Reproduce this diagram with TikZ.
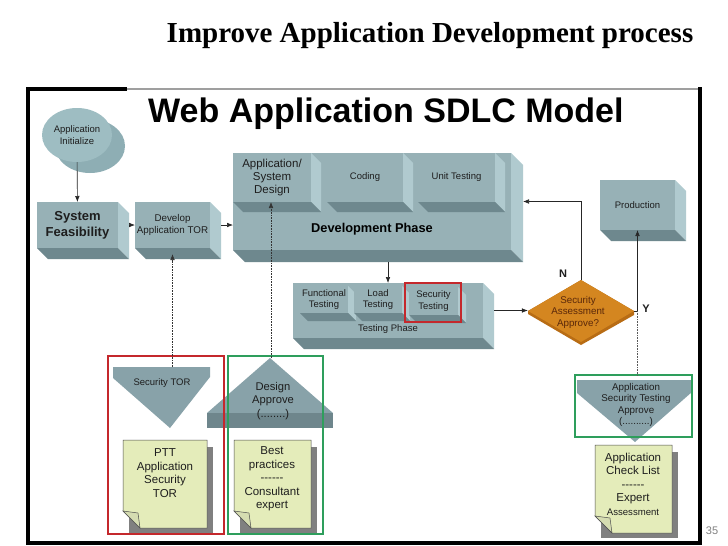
\documentclass[tikz,border=0pt]{standalone}
\usepackage{fontspec}
\setmainfont{Liberation Sans}
\newfontfamily\serifbf{Liberation Serif}
\usetikzlibrary{arrows.meta,shapes.geometric}
\definecolor{face}{RGB}{151,177,182}
\definecolor{sidec}{RGB}{176,202,207}
\definecolor{bottomc}{RGB}{110,136,142}
\definecolor{ellf}{RGB}{158,189,194}
\definecolor{ellb}{RGB}{142,174,180}
\definecolor{trif}{RGB}{136,162,169}
\definecolor{bandc}{RGB}{110,134,140}
\definecolor{notef}{RGB}{228,236,186}
\definecolor{shadowc}{RGB}{128,128,128}
\definecolor{orangec}{RGB}{212,134,32}
\definecolor{orangedk}{RGB}{184,108,20}
\definecolor{brownt}{RGB}{90,40,10}
\definecolor{redc}{RGB}{196,40,44}
\definecolor{greenc}{RGB}{46,158,92}
\definecolor{txt}{RGB}{30,30,30}

\newcommand\tdbox[8]{%
  \fill[sidec] (#4,#3) -- ({#4+#6},{#3+#6}) -- ({#4+#6},{#5+#6}) -- (#4,#5) -- cycle;
  \fill[bottomc] (#2,#5) -- (#4,#5) -- ({#4+#6},{#5+#6}) -- ({#2+#6},{#5+#6}) -- cycle;
  \pgfmathsetmacro\tdw{#4-#2}\pgfmathsetmacro\tdh{#5-#3}%
  \node[fill=face, minimum width=\tdw pt, minimum height=\tdh pt, inner sep=0pt, outer sep=0pt,
        align=center, text=txt, font=#7] (#1) at ({(#2+#4)/2},{(#3+#5)/2}) {#8};
}
\newcommand\notebox[6]{%
  \fill[shadowc] ({#2+6},{#3+7}) rectangle ({#4+6},{#5+5});
  \draw[fill=notef, draw=gray!60!black, line width=0.5pt] (#2,#3) -- (#4,#3) -- (#4,#5) -- ({#2+17},#5) -- (#2,{#5-17}) -- cycle;
  \draw[fill=notef!85!gray, draw=gray!60!black, line width=0.5pt] (#2,{#5-17}) -- ({#2+15},{#5-15}) -- ({#2+17},#5) -- cycle;
  \node[align=center, inner sep=0pt, text=txt, font=\fontsize{11.5}{13.5}\selectfont] (#1) at ({(#2+#4)/2},#6) {\strut};
}

\begin{document}
\begin{tikzpicture}[x=1pt,y=-1pt,
  arr/.style={-{Latex[length=6pt,width=4.6pt]}, line width=0.6pt, draw=black!85},
  dotarr/.style={-{Latex[length=6pt,width=4.6pt]}, line width=0.6pt, densely dotted, draw=black!80},
  dotl/.style={line width=0.6pt, densely dotted, draw=gray!70!black},
  lbl/.style={align=center, inner sep=0pt, text=txt},
  small/.style={font=\fontsize{9.5}{11.5}\selectfont},
  notetxt/.style={align=center, inner sep=0pt, text=txt, font=\fontsize{11.5}{13.5}\selectfont}]
\useasboundingbox (0,0) rectangle (728,546);
\fill[white] (0,0) rectangle (728,546);

% titles
\node[font=\serifbf\bfseries\fontsize{29}{32}\selectfont, anchor=base, inner sep=0pt] (title) at (430,42) {Improve Application Development process};
\node[font=\bfseries\fontsize{34}{36}\selectfont, anchor=base west, inner sep=0pt] (web) at (148,122) {Web Application SDLC Model};

% frame
\draw[line width=2.5pt, gray!75] (127,89) -- (700,89);
\draw[line width=3.5pt] (127,89) -- (28,89) -- (28,543) -- (700,543) -- (700,87);

% application initialize
\fill[ellb] (90,146) ellipse [x radius=35pt, y radius=27pt];
\node[ellipse, fill=ellf, minimum width=70pt, minimum height=54pt, inner sep=0pt, align=center,
      text=txt, font=\fontsize{9.5}{11.5}\selectfont] (init) at (77,135) {Application\\Initialize};

% boxes
\tdbox{feas}{37}{202}{118}{248}{11}{\bfseries\fontsize{13}{16}\selectfont}{System\\Feasibility}
\tdbox{dtor}{135}{202}{210}{248}{11}{\fontsize{9.8}{12}\selectfont}{Develop\\Application TOR}
\tdbox{dev}{233}{153}{511}{250}{12}{\small}{}
\tdbox{asd}{233}{153}{311}{202}{10}{\fontsize{11.5}{13}\selectfont}{Application/\\System\\Design}
\tdbox{cod}{327}{153}{403}{202}{10}{\fontsize{9.5}{11.5}\selectfont}{Coding}
\tdbox{unit}{418}{153}{495}{202}{10}{\fontsize{9.5}{11.5}\selectfont}{Unit Testing}
\node[lbl, font=\bfseries\fontsize{12.8}{15}\selectfont, text=black] (devlabel) at (372,229) {Development Phase};

\tdbox{test}{293}{283}{483}{338}{11}{\small}{}
\tdbox{ftest}{300}{286}{348}{313}{8}{\fontsize{9.5}{11.5}\selectfont}{Functional\\Testing}
\tdbox{ltest}{354}{286}{402}{313}{8}{\fontsize{9.5}{11.5}\selectfont}{Load\\Testing}
\tdbox{stest}{409}{287}{458}{315}{8}{\fontsize{9.5}{11.5}\selectfont}{Security\\Testing}
\node[lbl, font=\fontsize{9.5}{11.5}\selectfont] (testlabel) at (388,329) {Testing Phase};

\tdbox{prod}{600}{180}{675}{230}{11}{\fontsize{9.5}{11.5}\selectfont}{Production}

% decision
\fill[orangedk] (528,311) -- (581,280) -- (634,311) -- (634,315) -- (581,345) -- (528,314) -- cycle;
\node[diamond, fill=orangec, minimum width=106pt, minimum height=62pt, inner sep=0pt] (dia) at (581,311) {};
\node[lbl, text=brownt, font=\fontsize{9.8}{11.5}\selectfont] (diatext) at (578,312) {Security\\Assessment\\Approve?};
\node[lbl, font=\bfseries\fontsize{11}{13}\selectfont] (nlabel) at (563,274) {N};
\node[lbl, font=\bfseries\fontsize{11}{13}\selectfont] (ylabel) at (646,309) {Y};

% security TOR (down triangle)
\fill[trif] (113,367) -- (210,367) -- (210,377) -- (170,428) -- (113,378) -- cycle;
\node[lbl, font=\fontsize{9.5}{11.5}\selectfont] (stor) at (162,383) {Security TOR};
\coordinate (storTop) at (172.5,367);

% design approve (up triangle)
\fill[trif] (270,358) -- (333,413) -- (207,413) -- cycle;
\fill[bandc] (207,413) rectangle (333,428);
\node[lbl, font=\fontsize{11.2}{13.5}\selectfont] (dapp) at (273,401) {Design\\Approve\\(........)};
\coordinate (daTop) at (271,358);

% app security testing approve (down triangle)
\fill[trif] (577,380) -- (692,380) -- (692,392) -- (635,442) -- (577,393) -- cycle;
\node[lbl, font=\fontsize{9.8}{11.5}\selectfont] (asta) at (636,405) {Application\\Security Testing\\Approve\\(..........)};
\coordinate (astaTop) at (637.5,376);

% notes
\notebox{n1}{123}{440}{207}{528}{473}
\node[notetxt] (n1t) at (165,473) {PTT\\Application\\Security\\TOR};
\notebox{n2}{234}{440}{311}{528}{479}
\node[notetxt] (n2t) at (272,479) {Best\\practices\\\mbox{-{}-{}-{}-{}-{}-}\\Consultant\\expert};
\notebox{n3}{595}{445}{672}{533}{484}
\node[notetxt] (n3t) at (633,484) {Application\\Check List\\\mbox{-{}-{}-{}-{}-{}-}\\Expert\\{\fontsize{9.6}{11}\selectfont Assessment}};

% highlight rectangles
\draw[redc, line width=2pt] (405,283) rectangle (461,322);
\draw[redc, line width=2pt] (108,356) rectangle (224,534);
\draw[greenc, line width=2pt] (228,356) rectangle (323,534);
\draw[greenc, line width=2pt] (575,375) rectangle (692,437);

% connectors
\draw[arr] (init) -- (feas);
\draw[arr] ([xshift=11pt]feas.east) -- (dtor.west);
\draw[arr] ([xshift=11pt]dtor.east) -- (dtor.east -| dev.west);
\draw[arr] ([yshift=-12pt]dev.south -| test.north) -- (test.north);
\draw[arr] ([xshift=11pt]test.east) -- (test.east -| dia.west);
\draw[arr] (dia.north) |- ([xshift=12pt]dev.east);
\draw[arr] (dia.east) -| (prod.south);
\draw[dotl] (dia.east -| prod.south) -- (astaTop);
\draw[dotarr] (storTop) -- ([yshift=-6pt]dtor.south);
\draw[dotarr] (daTop) -- (daTop |- asd.south);

% page number
\node[lbl, text=gray, font=\fontsize{11}{13}\selectfont] (pnum) at (712,531) {35};
\end{tikzpicture}
\end{document}
